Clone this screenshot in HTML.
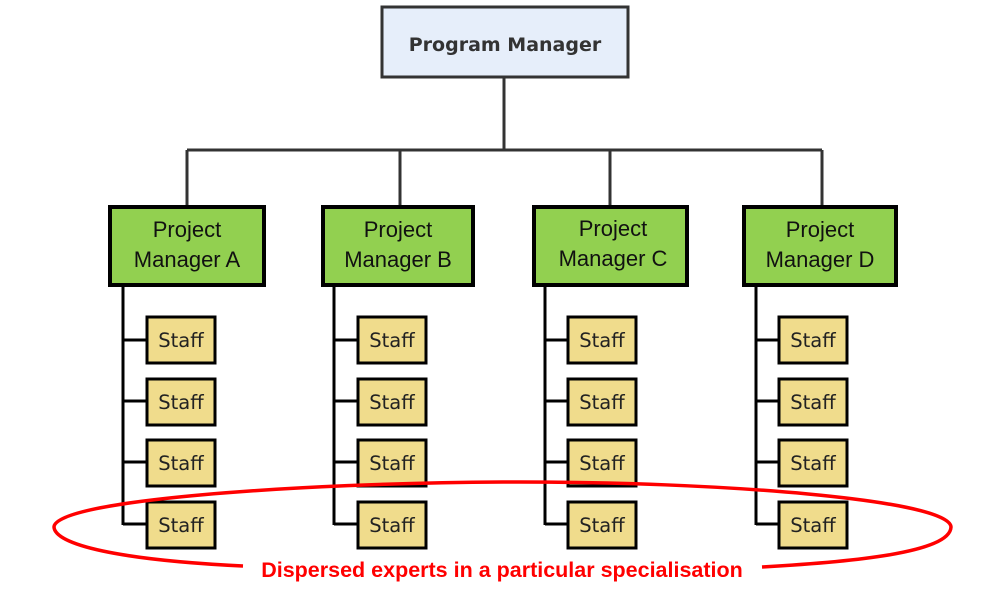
<!DOCTYPE html>
<html><head><style>
body{margin:0;width:1000px;height:591px;background:#fff;overflow:hidden}
</style></head><body>
<svg width="1000" height="591" viewBox="0 0 1000 591" xmlns="http://www.w3.org/2000/svg">
<g stroke="#333" stroke-width="3" fill="none">
<line x1="504" y1="77" x2="504" y2="150"/>
<line x1="187" y1="150" x2="822" y2="150"/>
<line x1="187" y1="150" x2="187" y2="206"/>
<line x1="400" y1="150" x2="400" y2="206"/>
<line x1="610" y1="150" x2="610" y2="206"/>
<line x1="822" y1="150" x2="822" y2="206"/>
</g>
<rect x="382" y="7" width="246" height="70" fill="#e6eefa" stroke="#333" stroke-width="3"/>
<text x="505" y="51" text-anchor="middle" font-family="DejaVu Sans, sans-serif" font-weight="bold" font-size="19" fill="#333">Program Manager</text>
<g font-family="Liberation Sans, sans-serif" font-size="22" fill="#111" text-anchor="middle">
<rect x="110" y="207" width="154" height="78" fill="#92d050" stroke="#000" stroke-width="4"/>
<text x="187" y="237">Project</text><text x="187" y="267">Manager A</text>
<rect x="323" y="207" width="150" height="78" fill="#92d050" stroke="#000" stroke-width="4"/>
<text x="398" y="237">Project</text><text x="398" y="267">Manager B</text>
<rect x="534" y="207" width="153" height="78" fill="#92d050" stroke="#000" stroke-width="4"/>
<text x="613" y="236">Project</text><text x="613" y="266">Manager C</text>
<rect x="744" y="207" width="152" height="78" fill="#92d050" stroke="#000" stroke-width="4"/>
<text x="820" y="237">Project</text><text x="820" y="267">Manager D</text>
</g>
<g stroke="#000" stroke-width="3">
<line x1="123" y1="286" x2="123" y2="525"/><line x1="334" y1="286" x2="334" y2="525"/>
<line x1="545" y1="286" x2="545" y2="525"/><line x1="756" y1="286" x2="756" y2="525"/>
<line x1="123" y1="340" x2="147" y2="340"/><line x1="123" y1="401" x2="147" y2="401"/><line x1="123" y1="462" x2="147" y2="462"/><line x1="123" y1="524" x2="147" y2="524"/>
<line x1="334" y1="340" x2="358" y2="340"/><line x1="334" y1="401" x2="358" y2="401"/><line x1="334" y1="462" x2="358" y2="462"/><line x1="334" y1="524" x2="358" y2="524"/>
<line x1="545" y1="340" x2="568" y2="340"/><line x1="545" y1="401" x2="568" y2="401"/><line x1="545" y1="462" x2="568" y2="462"/><line x1="545" y1="524" x2="568" y2="524"/>
<line x1="756" y1="340" x2="779" y2="340"/><line x1="756" y1="401" x2="779" y2="401"/><line x1="756" y1="462" x2="779" y2="462"/><line x1="756" y1="524" x2="779" y2="524"/>
</g>
<g fill="#f0dc8c" stroke="#000" stroke-width="3">
<rect x="147" y="317" width="68" height="46"/><rect x="147" y="379" width="68" height="46"/><rect x="147" y="440" width="68" height="46"/><rect x="147" y="502" width="68" height="46"/>
<rect x="358" y="317" width="68" height="46"/><rect x="358" y="379" width="68" height="46"/><rect x="358" y="440" width="68" height="46"/><rect x="358" y="502" width="68" height="46"/>
<rect x="568" y="317" width="68" height="46"/><rect x="568" y="379" width="68" height="46"/><rect x="568" y="440" width="68" height="46"/><rect x="568" y="502" width="68" height="46"/>
<rect x="779" y="317" width="68" height="46"/><rect x="779" y="379" width="68" height="46"/><rect x="779" y="440" width="68" height="46"/><rect x="779" y="502" width="68" height="46"/>
</g>
<g font-family="DejaVu Sans, sans-serif" font-size="19.5" fill="#222" text-anchor="middle">
<text x="181" y="347">Staff</text><text x="181" y="409">Staff</text><text x="181" y="470">Staff</text><text x="181" y="532">Staff</text>
<text x="392" y="347">Staff</text><text x="392" y="409">Staff</text><text x="392" y="470">Staff</text><text x="392" y="532">Staff</text>
<text x="602" y="347">Staff</text><text x="602" y="409">Staff</text><text x="602" y="470">Staff</text><text x="602" y="532">Staff</text>
<text x="813" y="347">Staff</text><text x="813" y="409">Staff</text><text x="813" y="470">Staff</text><text x="813" y="532">Staff</text>
</g>
<path d="M243,566 C120,560 55,545 54,527 C55,500 300,483 503,482 C720,481 950,500 951,527 C950,553 850,562 762,567" fill="none" stroke="#f00" stroke-width="3.5"/>
<text x="502" y="577" text-anchor="middle" font-family="Liberation Sans, sans-serif" font-weight="bold" font-size="21.5" fill="#f00">Dispersed experts in a particular specialisation</text>
</svg>
</body></html>
